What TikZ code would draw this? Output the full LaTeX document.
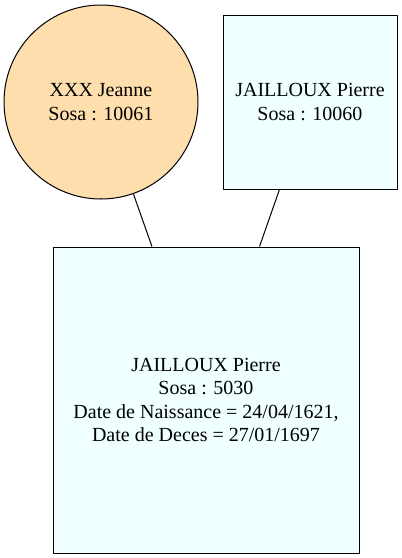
\documentclass[tikz,border=0pt]{standalone}
\usepackage{fontspec}
\setmainfont{Liberation Serif}
\definecolor{navajo}{HTML}{FFDEAD}
\definecolor{azurefill}{HTML}{F0FFFF}
\tikzset{
    personne/.style={draw,line width=0.75pt,align=center,inner sep=0pt,
        font=\fontsize{15pt}{17.6pt}\selectfont},
    femme/.style={personne,circle,fill=navajo,minimum size=145.5pt},
    homme/.style={personne,rectangle,fill=azurefill},
    lien/.style={line width=0.75pt}
}
\begin{document}
\begin{tikzpicture}[x=0.75pt,y=-0.75pt,line join=round]
    \useasboundingbox (0,0) rectangle (402,558);

    \node[femme] (mere) at (101,102) {XXX Jeanne\\Sosa : 10061};
    \node[homme,minimum size=130.5pt] (pere) at (310,102) {JAILLOUX Pierre\\Sosa : 10060};
    \node[homme,minimum size=229.5pt] (enfant) at (206,400)
        {JAILLOUX Pierre\\Sosa : 5030\\Date de Naissance = 24/04/1621,\\Date de Deces = 27/01/1697};

    \draw[lien] (mere) -- (enfant);
    \draw[lien] (pere) -- (enfant);
\end{tikzpicture}
\end{document}
